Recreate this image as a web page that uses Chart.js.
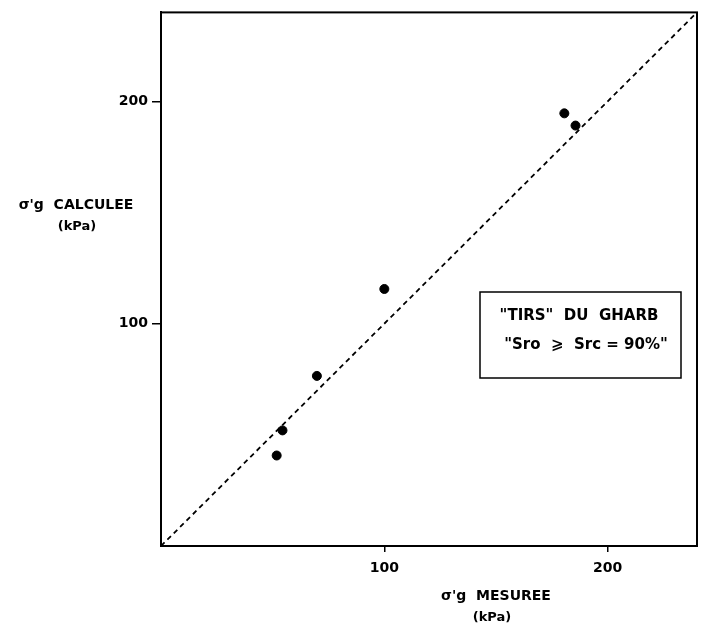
<!DOCTYPE html>
<html>
<head>
<meta charset="utf-8">
<script src="https://cdn.jsdelivr.net/npm/chart.js@4"></script>
<style>
html,body{margin:0;padding:0;background:#fff;}
#wrap{position:relative;width:706px;height:625px;}
</style>
</head>
<body>
<div id="wrap"><canvas id="c" width="706" height="625"></canvas></div>
<script>
// Data
const measured   = [51.8, 54.4, 69.8, 100.0, 180.6, 185.6];
const calculated = [40.7, 52.0, 76.5, 115.6, 194.6, 189.1];
const tickValues = [100, 200];
const axisMin = 0, axisMax = 240;
const lineX = [0, 240];
const lineY = [0, 240];
const xTitle = ["σ'g  MESUREE", "(kPa)"];
const yTitle = ["σ'g  CALCULEE", "(kPa)"];
const boxLines = ['"TIRS"  DU  GHARB', '"Sro  ⩾  Src = 90%"'];

const FONT = '"DejaVu Sans", sans-serif';

const pts = measured.map((v, i) => ({x: v, y: calculated[i]}));
const diag = lineX.map((v, i) => ({x: v, y: lineY[i]}));

const decor = {
  id: 'decor',
  afterDraw(chart) {
    const ctx = chart.ctx;
    const a = chart.chartArea;
    ctx.save();
    // frame
    ctx.strokeStyle = '#000';
    ctx.lineWidth = 2;
    ctx.strokeRect(a.left, a.top, a.right - a.left, a.bottom - a.top);
    // axis titles
    ctx.fillStyle = '#000';
    ctx.textAlign = 'center';
    ctx.textBaseline = 'middle';
    ctx.font = 'bold 14px ' + FONT;
    ctx.fillText(yTitle[0], 76, 205);
    ctx.fillText(xTitle[0], 496, 596);
    ctx.font = 'bold 13px ' + FONT;
    ctx.fillText(yTitle[1], 77, 227);
    ctx.fillText(xTitle[1], 492, 618);
    // legend box
    const bx = 480, by = 292, bw = 201, bh = 86;
    ctx.fillStyle = '#fff';
    ctx.fillRect(bx, by, bw, bh);
    ctx.lineWidth = 1.5;
    ctx.strokeRect(bx, by, bw, bh);
    ctx.fillStyle = '#000';
    ctx.font = 'bold 15px ' + FONT;
    ctx.fillText(boxLines[0], 579, 316);
    ctx.fillText(boxLines[1], 586, 345);
    ctx.restore();
  }
};

new Chart(document.getElementById('c'), {
  type: 'scatter',
  data: {
    datasets: [
      {
        type: 'line',
        data: diag,
        borderColor: '#000',
        borderWidth: 1.8,
        borderDash: [5, 4],
        pointRadius: 0,
        fill: false,
        order: 2
      },
      {
        data: pts,
        backgroundColor: '#000',
        borderColor: '#000',
        pointRadius: 4.5,
        pointStyle: 'circle',
        order: 1
      }
    ]
  },
  options: {
    responsive: false,
    animation: false,
    devicePixelRatio: 1,
    layout: {padding: {top: 8, right: 9, left: 0, bottom: 0}},
    plugins: {legend: {display: false}, tooltip: {enabled: false}},
    scales: {
      x: {
        type: 'linear',
        min: axisMin, max: axisMax,
        afterBuildTicks(s) { s.ticks = tickValues.map(v => ({value: v})); },
        afterFit(s) { s.height = 79; },
        grid: {drawOnChartArea: false, drawTicks: true, tickLength: 6, color: '#000', lineWidth: 1.5},
        border: {display: true, color: '#000', width: 2},
        ticks: {color: '#000', font: {family: FONT, size: 14, weight: 'bold'}, padding: 8, maxRotation: 0}
      },
      y: {
        type: 'linear',
        min: axisMin, max: axisMax,
        afterBuildTicks(s) { s.ticks = tickValues.map(v => ({value: v})); },
        afterFit(s) { s.width = 161; },
        grid: {drawOnChartArea: false, drawTicks: true, tickLength: 9, color: '#000', lineWidth: 1.5},
        border: {display: true, color: '#000', width: 2},
        ticks: {color: '#000', font: {family: FONT, size: 14, weight: 'bold'}, padding: 4}
      }
    }
  },
  plugins: [decor]
});
</script>
</body>
</html>
